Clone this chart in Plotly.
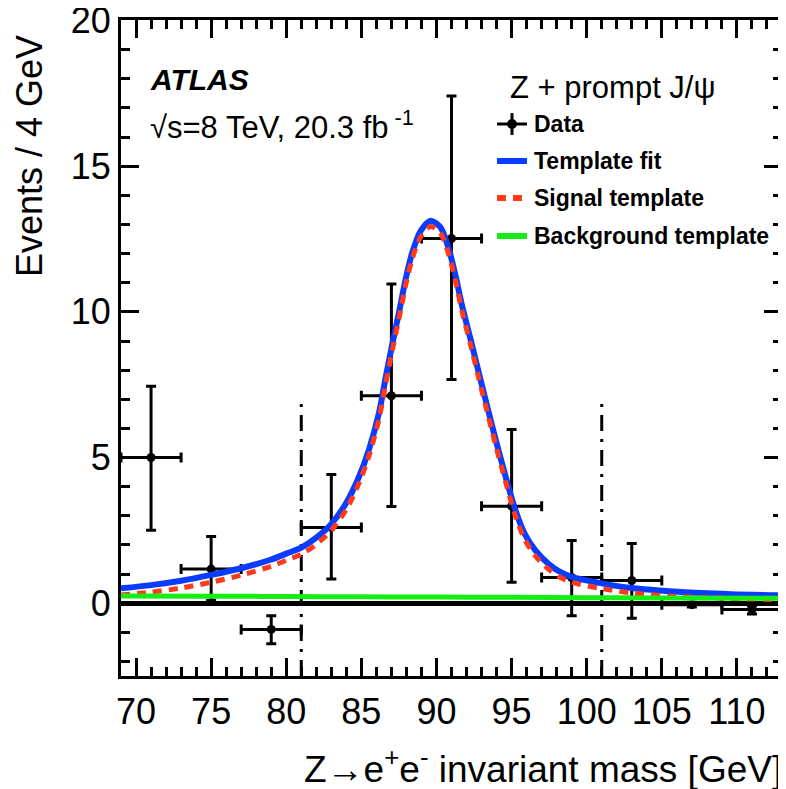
import plotly.graph_objects as go

# ---------------- data ----------------
bin_centers = [71, 75, 79, 83, 87, 91, 95, 99, 103, 107, 111]
bin_half_width = [2, 2, 2, 2, 2, 2, 2, 2, 2, 2, 2]
events = [5.0, 1.17, -0.9, 2.6, 7.12, 12.52, 3.33, 0.88, 0.78, -0.05, -0.22]
err_up = [2.45, 1.12, 0.47, 1.82, 3.84, 4.89, 2.63, 1.27, 1.27, 0.08, 0.12]
err_down = [2.5, 1.07, 0.49, 1.77, 3.8, 4.84, 2.61, 1.31, 1.3, 0.08, 0.15]

fit_mass = [69, 71, 73, 75, 77, 79, 80, 81, 82, 83, 84, 84.85, 85.52, 86.18,
            86.62, 87.06, 87.51, 87.95, 88.39, 88.95, 89.61, 90.27, 90.82,
            91.27, 91.70, 92.26, 92.81, 93.36, 93.92, 94.58, 95.25, 95.9,
            96.6, 97.45, 98.2, 99.0, 101, 103, 106.3, 109.6, 113]
fit_vals = [0.51, 0.62, 0.77, 0.97, 1.20, 1.50, 1.70, 1.91, 2.25, 2.72, 3.45,
            4.35, 5.30, 6.55, 7.75, 8.90, 9.99, 11.13, 12.04, 12.78, 13.13,
            12.90, 12.16, 11.24, 10.22, 9.08, 7.93, 6.79, 5.65, 4.39, 3.20,
            2.35, 1.80, 1.35, 1.08, 0.90, 0.68, 0.52, 0.38, 0.31, 0.27]
signal_vals = [0.28, 0.38, 0.52, 0.72, 0.96, 1.27, 1.47, 1.68, 2.02, 2.50, 3.22,
               4.13, 5.08, 6.33, 7.53, 8.68, 9.78, 10.92, 11.83, 12.57, 12.93,
               12.70, 11.96, 11.04, 10.02, 8.88, 7.73, 6.60, 5.46, 4.20, 3.00,
               2.16, 1.61, 1.17, 0.90, 0.72, 0.50, 0.35, 0.22, 0.16, 0.12]
bg_mass = [69, 75, 80, 85, 90, 95, 100, 105, 113]
bg_vals = [0.25, 0.24, 0.23, 0.22, 0.21, 0.20, 0.19, 0.18, 0.17]

window_edges = [81, 101]
window_line_range = [-2.5, 7.0]

x_range = [69, 113]
y_range = [-2.5, 20.02]
x_tick_start, x_tick_step, x_minor_step = 70, 5, 1
y_tick_start, y_tick_step, y_minor_step = 0, 5, 1

legend_labels = ["Data", "Template fit", "Signal template", "Background template"]

# ---------------- styling ----------------
FONT = "Liberation Sans, Arial, Helvetica, sans-serif"
BLUE = "#0a3cff"
RED = "#ff3a1a"
GREEN = "#14ee14"

# the page body has an 8px default margin; size the figure so that the
# plot lands where it should in the 786x789 window
OFF = 8
W, H = 786 - OFF, 789 - OFF
# plot-area edges in window pixels
LEFT, RIGHT, TOP, BOTTOM = 121, 782, 20, 676
ML, MT = LEFT - OFF, TOP - OFF
MR, MB = W - (RIGHT - OFF), H - (BOTTOM - OFF)
PW, PH = RIGHT - LEFT, BOTTOM - TOP


def px(xp):
    return (xp - LEFT) / PW


def py(yp):
    return (BOTTOM - yp) / PH


fig = go.Figure()

# data points
fig.add_trace(go.Scatter(
    x=bin_centers, y=events, mode="markers",
    marker=dict(color="black", size=9),
    error_x=dict(type="data", array=bin_half_width, color="black",
                 thickness=3, width=5),
    error_y=dict(type="data", symmetric=False, array=err_up,
                 arrayminus=err_down, color="black", thickness=3, width=5),
    showlegend=False, cliponaxis=False))

# mass-window lines
for edge in window_edges:
    fig.add_trace(go.Scatter(
        x=[edge, edge], y=window_line_range, mode="lines",
        line=dict(color="black", width=3, dash="16px,8px,3px,8px"),
        showlegend=False))

# curves
fig.add_trace(go.Scatter(x=fit_mass, y=fit_vals, mode="lines",
                         line=dict(color=BLUE, width=6, shape="spline", smoothing=0.8),
                         showlegend=False))
fig.add_trace(go.Scatter(x=fit_mass, y=signal_vals, mode="lines",
                         line=dict(color=RED, width=5, dash="9px,7px",
                                   shape="spline", smoothing=0.8),
                         showlegend=False))
fig.add_trace(go.Scatter(x=bg_mass, y=bg_vals, mode="lines",
                         line=dict(color=GREEN, width=5, shape="spline"),
                         showlegend=False))

axis_common = dict(
    showline=True, linecolor="black", linewidth=3, mirror="allticks",
    ticks="inside", ticklen=18, tickwidth=3, tickcolor="black",
    showgrid=False, automargin=False, ticklabeloverflow="allow",
    tickmode="linear",
    tickfont=dict(family=FONT, size=36, color="black"),
)

fig.update_xaxes(range=x_range, tick0=x_tick_start, dtick=x_tick_step,
                 zeroline=False,
                 minor=dict(tickmode="linear", tick0=x_tick_start, dtick=x_minor_step,
                            ticks="inside", ticklen=9,
                            tickwidth=3, tickcolor="black", showgrid=False),
                 ticklabelstandoff=2, **axis_common)
fig.update_yaxes(range=y_range, tick0=y_tick_start, dtick=y_tick_step,
                 zeroline=True, zerolinecolor="black", zerolinewidth=5,
                 minor=dict(tickmode="linear", tick0=y_tick_start, dtick=y_minor_step,
                            ticks="inside", ticklen=9,
                            tickwidth=3, tickcolor="black", showgrid=False),
                 ticklabelstandoff=0, **axis_common)

annotations = [
    dict(text="Events / 4 GeV", textangle=-90, x=px(30), y=py(33),
         xanchor="center", yanchor="top",
         font=dict(family=FONT, size=36, color="black")),
    dict(text="Z\u2192e<sup>+</sup>e<sup>-</sup> invariant mass [GeV]",
         x=px(784), y=py(766), xanchor="right", yanchor="middle",
         font=dict(family=FONT, size=37, color="black")),
    dict(text="<b><i>ATLAS</i></b>", x=px(148), y=py(80),
         xanchor="left", yanchor="middle",
         font=dict(family=FONT, size=30, color="black")),
    dict(text="\u221as=8 TeV, 20.3 fb<sup> -1</sup>", x=px(148), y=py(125),
         xanchor="left", yanchor="middle",
         font=dict(family=FONT, size=31, color="black")),
    dict(text="Z + prompt J/\u03c8", x=px(508), y=py(88),
         xanchor="left", yanchor="middle",
         font=dict(family=FONT, size=31, color="black")),
]
legend_y = [124, 161, 198, 236]
for lab, ly in zip(legend_labels, legend_y):
    annotations.append(dict(text="<b>" + lab + "</b>", x=px(532), y=py(ly),
                            xanchor="left", yanchor="middle",
                            font=dict(family=FONT, size=23, color="black")))
for a in annotations:
    a.update(xref="paper", yref="paper", showarrow=False)

shapes = [
    # Data: cross with dot
    dict(type="line", x0=px(497), x1=px(527), y0=py(124), y1=py(124),
         line=dict(color="black", width=3)),
    dict(type="line", x0=px(512), x1=px(512), y0=py(113), y1=py(135),
         line=dict(color="black", width=3)),
    dict(type="circle", x0=px(507), x1=px(517), y0=py(119), y1=py(129),
         fillcolor="black", line=dict(color="black", width=0)),
    # Template fit
    dict(type="line", x0=px(497), x1=px(527), y0=py(161), y1=py(161),
         line=dict(color=BLUE, width=6)),
    # Signal template
    dict(type="line", x0=px(497), x1=px(527), y0=py(198), y1=py(198),
         line=dict(color=RED, width=6, dash="9px,7px")),
    # Background template
    dict(type="line", x0=px(497), x1=px(527), y0=py(236), y1=py(236),
         line=dict(color=GREEN, width=6)),
]
for s in shapes:
    s.update(xref="paper", yref="paper")

fig.update_layout(
    width=W, height=H,
    margin=dict(l=ML, r=MR, t=MT, b=MB, pad=0),
    plot_bgcolor="white", paper_bgcolor="white",
    showlegend=False,
    annotations=annotations, shapes=shapes,
    font=dict(family=FONT, color="black"),
)

fig.write_html("out.html")
